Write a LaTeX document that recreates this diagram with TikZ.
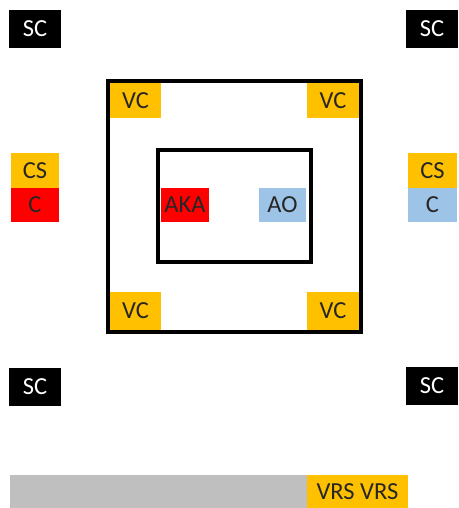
\documentclass[tikz,border=0pt]{standalone}
\usepackage{fontspec}
\setmainfont{Carlito}
\definecolor{xorange}{HTML}{FFC000}
\definecolor{xred}{HTML}{FF0000}
\definecolor{xblue}{HTML}{9DC3E6}
\definecolor{xgray}{HTML}{BFBFBF}
\begin{document}
\begin{tikzpicture}[x=1pt,y=-1pt,
  cell/.style={inner sep=0pt, outer sep=0pt, font=\fontsize{24.5}{24.5}\selectfont, text=black!85},
  sc/.style={cell, fill=black, text=white, minimum width=52pt, minimum height=38pt},
  oc/.style={cell, fill=xorange},
  frame/.style={draw=black, line width=4pt}]
\useasboundingbox (0,0) rectangle (458,508);
% SC boxes
\node[sc] (sc1) at (35,29) {SC};
\node[sc] (sc2) at (432,29) {SC};
\node[sc] (sc3) at (35,387) {SC};
\node[sc] (sc4) at (432,386) {SC};
% side CS/C
\node[oc, minimum width=48pt, minimum height=35pt] (csl) at (35,170.5) {CS};
\node[cell, fill=xred, minimum width=48pt, minimum height=34pt] (cl) at (35,205) {C};
\node[oc, minimum width=49pt, minimum height=35pt] (csr) at (432.5,170.5) {CS};
\node[cell, fill=xblue, minimum width=49pt, minimum height=34pt] (cr) at (432.5,205) {C};
% outer square
\node[frame, inner sep=0pt, outer sep=-2pt, minimum width=253pt, minimum height=251pt] (outer) at (234.5,206.5) {};
% VC boxes
\node[oc, minimum width=51pt, minimum height=35pt, anchor=north west] (vc1) at (outer.north west) {VC};
\node[oc, minimum width=52pt, minimum height=35pt, anchor=north east] (vc2) at (outer.north east) {VC};
\node[oc, minimum width=51pt, minimum height=38pt, anchor=south west] (vc3) at (outer.south west) {VC};
\node[oc, minimum width=52pt, minimum height=38pt, anchor=south east] (vc4) at (outer.south east) {VC};
% inner rectangle
\node[frame, line width=3.5pt, inner sep=0pt, minimum width=153pt, minimum height=112pt] (inner) at (234.5,206) {};
\node[cell, fill=xred, minimum width=48pt, minimum height=34pt] (aka) at (185,205) {AKA};
\node[cell, fill=xblue, minimum width=47pt, minimum height=34pt] (ao) at (282.5,205) {AO};
% bottom bar
\node[cell, fill=xgray, minimum width=297pt, minimum height=34pt, anchor=north west] (bar) at (10,475) {};
\node[oc, minimum width=101pt, minimum height=34pt, anchor=north west, text depth=-3pt] (vrs) at (bar.north east) {VRS VRS};
\end{tikzpicture}
\end{document}
